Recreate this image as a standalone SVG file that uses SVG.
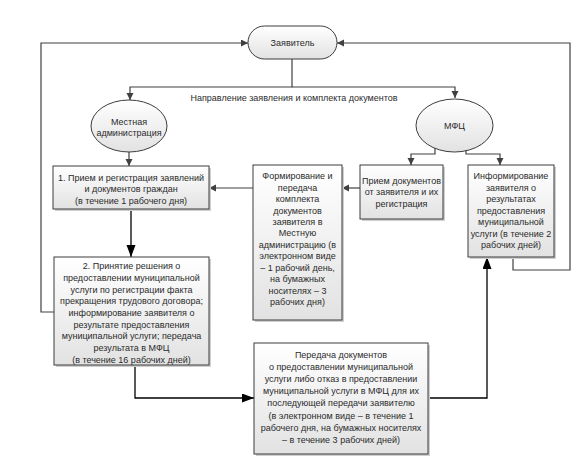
<svg xmlns="http://www.w3.org/2000/svg" width="583" height="476" viewBox="0 0 583 476">
<defs>
<linearGradient id="g" x1="0" y1="0" x2="0" y2="1">
<stop offset="0" stop-color="#ffffff"/>
<stop offset="1" stop-color="#e2e2e2"/>
</linearGradient>
<marker id="a" markerUnits="userSpaceOnUse" markerWidth="8" markerHeight="8" refX="7" refY="3.5" orient="auto">
<path d="M0,0 L7,3.5 L0,7 Z" fill="#404040"/>
</marker>
<marker id="b" markerUnits="userSpaceOnUse" markerWidth="13" markerHeight="10" refX="12" refY="4.5" orient="auto">
<path d="M0,0 L12,4.5 L0,9 Z" fill="#000"/>
</marker>
</defs>
<style>
.box{fill:url(#g);stroke:#3c3c3c;stroke-width:1}
.sh{fill:#cfcfcf}
.t{font-family:"Liberation Sans",Arial,sans-serif;font-size:9px;fill:#2b2b2b;text-anchor:middle}
.c{fill:none;stroke:#404040;stroke-width:1.2}
.k{fill:none;stroke:#000;stroke-width:1.3}
</style>
<rect width="583" height="476" fill="#fff"/>
<g id="connectors">
<path class="c" d="M292,59 V87 H130 V100" marker-end="url(#a)"/>
<path class="c" d="M292,87 H455 V98" marker-end="url(#a)"/>
<path class="c" d="M129,152 V166" marker-end="url(#a)"/>
<path class="c" d="M435,148 V154 H411 V165" marker-end="url(#a)"/>
<path class="c" d="M466,149 V154 H500 V165" marker-end="url(#a)"/>
<path class="c" d="M360,188 H342" marker-end="url(#a)"/>
<path class="c" d="M253,188 H209" marker-end="url(#a)"/>
<path class="c" d="M54,312 H41 V43 H248" marker-end="url(#a)"/>
<path class="c" d="M513,257 V270 H570 V43 H337" marker-end="url(#a)"/>
<path class="k" d="M131,209 V257" marker-end="url(#b)"/>
<path class="k" d="M135,365 V398 H254" marker-end="url(#b)"/>
<path class="k" d="M428,398 H487 V257" marker-end="url(#b)"/>
</g>
<text class="t" x="294" y="100.5">Направление заявления и комплекта документов</text>
<g id="zayavitel">
<rect class="box" x="248" y="26" width="89" height="33" rx="16.5"/>
<text class="t" x="292.5" y="45.5">Заявитель</text>
</g>
<g id="mestnaya">
<ellipse class="box" cx="129" cy="126" rx="38" ry="26"/>
<text class="t" x="129" y="124.5">Местная</text>
<text class="t" x="129" y="135.5">администрация</text>
</g>
<g id="mfc">
<ellipse class="box" cx="454.5" cy="125.5" rx="38.5" ry="26.5"/>
<text class="t" x="454.5" y="128.5">МФЦ</text>
</g>
<g id="box1">
<rect class="sh" x="55" y="168" width="156" height="43"/>
<rect class="box" x="53" y="166" width="156" height="43"/>
<text class="t" x="131" y="180.5">1. Прием и регистрация заявлений</text>
<text class="t" x="131" y="192">и документов граждан</text>
<text class="t" x="131" y="203.5">(в течение 1 рабочего дня)</text>
</g>
<g id="box2">
<rect class="sh" x="56" y="259" width="155" height="108"/>
<rect class="box" x="54" y="257" width="155" height="108"/>
<text class="t" x="131.5" y="269.2">2. Принятие решения о</text>
<text class="t" x="131.5" y="280.9">предоставлении муниципальной</text>
<text class="t" x="131.5" y="292.6">услуги по регистрации факта</text>
<text class="t" x="131.5" y="304.3">прекращения трудового договора;</text>
<text class="t" x="131.5" y="316">информирование заявителя о</text>
<text class="t" x="131.5" y="327.7">результате предоставления</text>
<text class="t" x="131.5" y="339.4">муниципальной услуги; передача</text>
<text class="t" x="131.5" y="351.1">результата в МФЦ</text>
<text class="t" x="131.5" y="362.8">(в течение 16 рабочих дней)</text>
</g>
<g id="formirovanie">
<rect class="sh" x="255" y="167" width="89" height="155"/>
<rect class="box" x="253" y="165" width="89" height="155"/>
<text class="t" x="297.5" y="179.2">Формирование и</text>
<text class="t" x="297.5" y="190.65">передача</text>
<text class="t" x="297.5" y="202.1">комплекта</text>
<text class="t" x="297.5" y="213.55">документов</text>
<text class="t" x="297.5" y="225">заявителя в</text>
<text class="t" x="297.5" y="236.45">Местную</text>
<text class="t" x="297.5" y="247.9">администрацию (в</text>
<text class="t" x="297.5" y="259.35">электронном виде</text>
<text class="t" x="297.5" y="270.8">– 1 рабочий день,</text>
<text class="t" x="297.5" y="282.25">на бумажных</text>
<text class="t" x="297.5" y="293.7">носителях – 3</text>
<text class="t" x="297.5" y="305.15">рабочих дня)</text>
</g>
<g id="priem">
<rect class="sh" x="362" y="167" width="83" height="54"/>
<rect class="box" x="360" y="165" width="83" height="54"/>
<text class="t" x="401.5" y="183.5">Прием документов</text>
<text class="t" x="401.5" y="195">от заявителя и их</text>
<text class="t" x="401.5" y="206.5">регистрация</text>
</g>
<g id="informirovanie">
<rect class="sh" x="470" y="167" width="86" height="92"/>
<rect class="box" x="468" y="165" width="86" height="92"/>
<text class="t" x="511" y="179.2">Информирование</text>
<text class="t" x="511" y="190.7">заявителя о</text>
<text class="t" x="511" y="202.2">результатах</text>
<text class="t" x="511" y="213.7">предоставления</text>
<text class="t" x="511" y="225.2">муниципальной</text>
<text class="t" x="511" y="236.7">услуги (в течение 2</text>
<text class="t" x="511" y="248.2">рабочих дней)</text>
</g>
<g id="peredacha">
<rect class="sh" x="256" y="345" width="174" height="111"/>
<rect class="box" x="254" y="343" width="174" height="111"/>
<text class="t" x="341" y="358">Передача документов</text>
<text class="t" x="341" y="370.1">о предоставлении муниципальной</text>
<text class="t" x="341" y="382.2">услуги либо отказ в предоставлении</text>
<text class="t" x="341" y="394.3">муниципальной услуги в МФЦ для их</text>
<text class="t" x="341" y="406.4">последующей передачи заявителю</text>
<text class="t" x="341" y="418.5">(в электронном виде – в течение 1</text>
<text class="t" x="341" y="430.6">рабочего дня, на бумажных носителях</text>
<text class="t" x="341" y="442.7">– в течение 3 рабочих дней)</text>
</g>
</svg>
